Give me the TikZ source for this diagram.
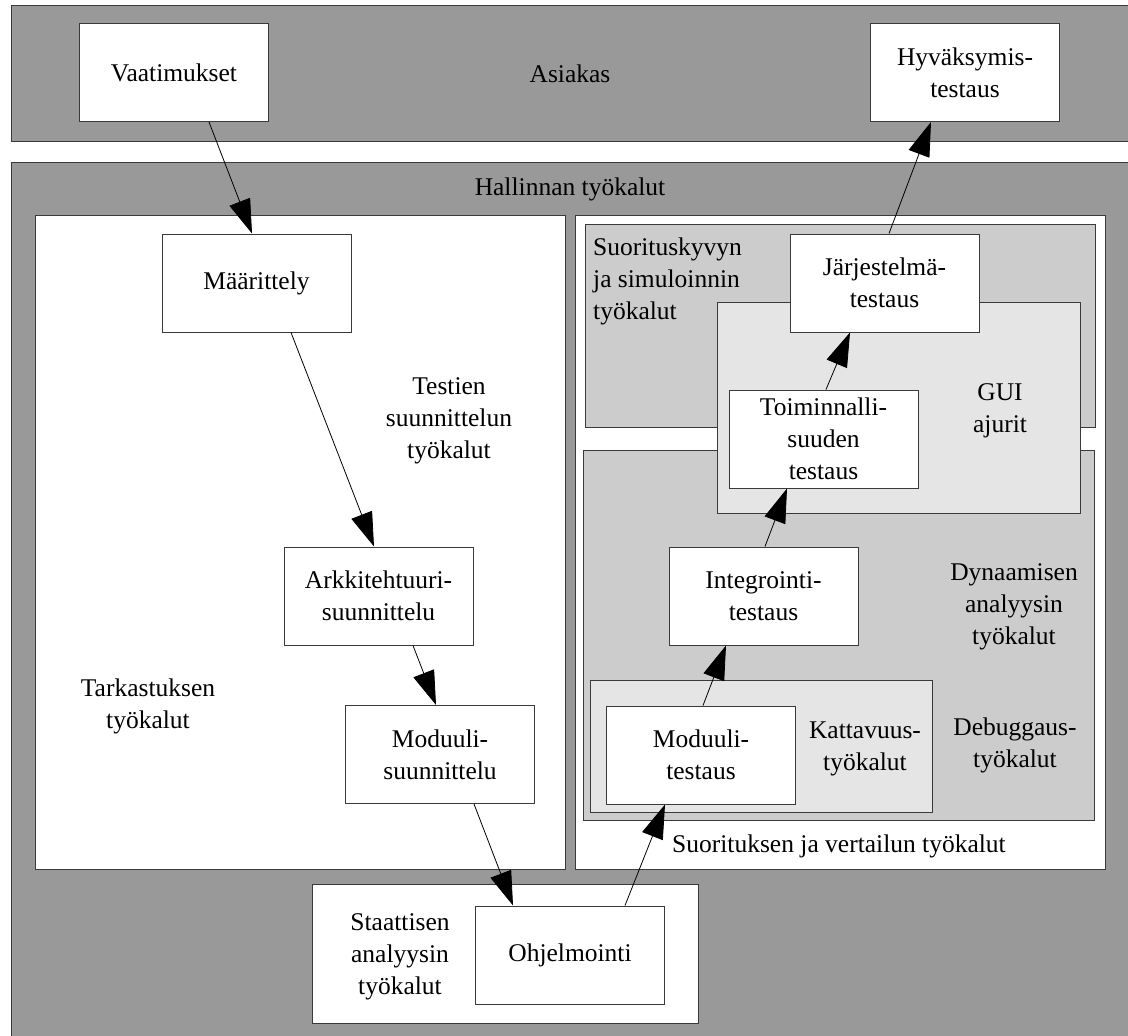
\documentclass[tikz,border=0pt]{standalone}
\usepackage{fontspec}
\setmainfont{Liberation Serif}
\usetikzlibrary{arrows.meta}

\definecolor{bandgray}{HTML}{999999}
\definecolor{midgray}{HTML}{CCCCCC}
\definecolor{palegray}{HTML}{E5E5E5}
\definecolor{edge}{HTML}{3A3A3A}

\newcommand{\lbl}{\fontsize{25.5}{32}\selectfont}

\tikzset{
  region/.style={draw=edge, line width=1pt},
  proc/.style={draw=edge, fill=white, line width=1pt, minimum width=189pt,
    minimum height=98pt, inner sep=0pt, align=center, font=\lbl},
  caption/.style={inner sep=0pt, align=center, font=\lbl},
  conn/.style={draw=black, line width=0.8pt,
    -{Triangle[length=34pt,width=22pt]}}
}

\begin{document}
\begin{tikzpicture}[x=1pt,y=-1pt]
\useasboundingbox[fill=white] (0,0) rectangle (1128,1036);

% customer band and management band
\path[region, fill=bandgray] (11,5) rectangle (1140,141);
\path[region, fill=bandgray] (11,162) rectangle (1140,1045);

% design side and execution side panels
\path[region, fill=white] (35,215) rectangle (565,869);
\path[region, fill=white] (575,215) rectangle (1105,869);

% tool areas on the execution side
\path[region, fill=midgray] (585,224) rectangle (1095,427);
\path[region, fill=midgray] (583,450) rectangle (1094,820);
\path[region, fill=palegray] (717,302) rectangle (1080,513);
\path[region, fill=palegray] (590,680) rectangle (932,812);

% static analysis area
\path[region, fill=white] (312,884) rectangle (698,1023);

% area captions
\node[caption] (asiakas) at (570,74) {Asiakas};
\node[caption] (hallinta) at (570,189) {Hallinnan työkalut};
\node[caption] (testsuun) at (449,421) {Testien\\suunnittelun\\työkalut};
\node[caption] (tarkastus) at (148,706) {Tarkastuksen\\työkalut};
\node[caption, align=left, anchor=west] (suorkyky) at (593,281) {Suorituskyvyn\\ja simuloinnin\\työkalut};
\node[caption] (gui) at (1000,411) {GUI\\ajurit};
\node[caption] (dynaam) at (1014,607) {Dynaamisen\\analyysin\\työkalut};
\node[caption] (debug) at (1015,745) {Debuggaus-\\työkalut};
\node[caption] (kattavuus) at (865,749) {Kattavuus-\\työkalut};
\node[caption] (suorvert) at (839,846) {Suorituksen ja vertailun työkalut};
\node[caption] (staattinen) at (400,957) {Staattisen\\analyysin\\työkalut};

% process steps
\node[proc] (vaat) at (174,72.5) {Vaatimukset};
\node[proc] (hyv) at (965,72.5) {Hyväksymis-\\testaus};
\node[proc] (maar) at (256.5,283) {Määrittely};
\node[proc] (arkk) at (378.5,596) {Arkkitehtuuri-\\suunnittelu};
\node[proc] (modsuun) at (440,754.5) {Moduuli-\\suunnittelu};
\node[proc] (ohj) at (570,955) {Ohjelmointi};
\node[proc] (modtest) at (701,755) {Moduuli-\\testaus};
\node[proc] (integ) at (763.5,596) {Integrointi-\\testaus};
\node[proc] (toim) at (823.5,439) {Toiminnalli-\\suuden\\testaus};
\node[proc] (jarj) at (884.5,283) {Järjestelmä-\\testaus};

% flow of the V-model
\draw[conn] ([xshift=35pt]vaat.south) -- ([xshift=-4.5pt]maar.north);
\draw[conn] ([xshift=34.5pt]maar.south) -- ([xshift=-4.5pt]arkk.north);
\draw[conn] ([xshift=34.5pt]arkk.south) -- ([xshift=-4pt]modsuun.north);
\draw[conn] ([xshift=34pt]modsuun.south) -- ([xshift=-57pt]ohj.north);
\draw[conn] ([xshift=55pt]ohj.north) -- ([xshift=-36pt]modtest.south);
\draw[conn] ([xshift=2pt]modtest.north) -- ([xshift=-37.5pt]integ.south);
\draw[conn] ([xshift=1.5pt]integ.north) -- ([xshift=-36.5pt]toim.south);
\draw[conn] ([xshift=2.5pt]toim.north) -- ([xshift=-34.5pt]jarj.south);
\draw[conn] ([xshift=4.5pt]jarj.north) -- ([xshift=-34pt]hyv.south);
\end{tikzpicture}
\end{document}
